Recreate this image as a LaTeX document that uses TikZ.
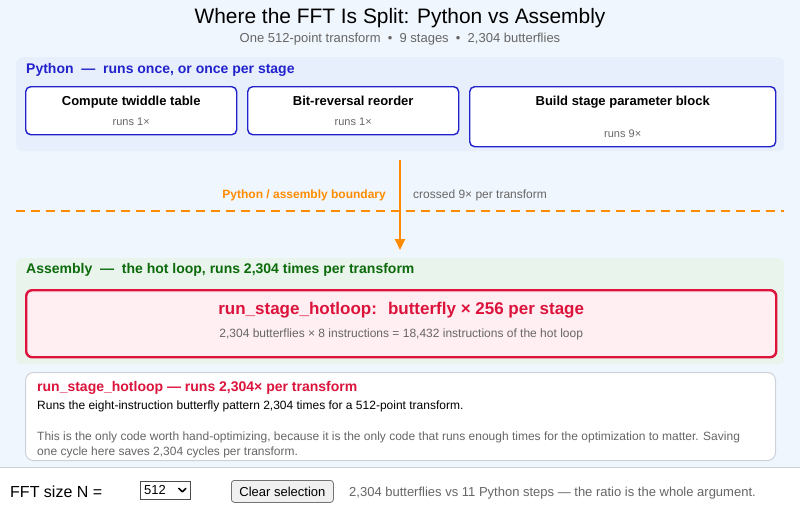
\documentclass[tikz,border=0pt]{standalone}
\usepackage{fontspec}
\setmainfont{Liberation Sans}
\usepackage{tikz}
\usetikzlibrary{arrows.meta,positioning,calc}

\definecolor{pagebg}{HTML}{F0F6FD}
\definecolor{pypanel}{HTML}{E7EFFC}
\definecolor{pyblue}{HTML}{2222CC}
\definecolor{asmpanel}{HTML}{E9F4EC}
\definecolor{asmgreen}{HTML}{0B6B0B}
\definecolor{hotred}{HTML}{DC143C}
\definecolor{hotfill}{HTML}{FFEEF2}
\definecolor{bordorange}{HTML}{FF8C00}
\definecolor{txtgray}{HTML}{666666}
\definecolor{linegray}{HTML}{CDD2D8}

\begin{document}
\begin{tikzpicture}[x=1pt,y=-1pt]
\tikzstyle{panel} = [rounded corners=6pt, anchor=north west, inner sep=0pt]
\tikzstyle{pybox} = [draw=pyblue, line width=1.4pt, fill=white, rounded corners=5pt, anchor=north west, inner sep=0pt]
\tikzstyle{boxtitle} = [anchor=base, inner sep=0pt, font=\fontsize{13}{15}\selectfont\bfseries]
\tikzstyle{runs} = [anchor=base, inner sep=0pt, text=txtgray, font=\fontsize{11}{13}\selectfont]
\tikzstyle{header} = [anchor=base west, inner sep=0pt, font=\fontsize{14}{16}\selectfont\bfseries]
\tikzstyle{body} = [anchor=base west, inner sep=0pt, font=\fontsize{12}{14}\selectfont]
\useasboundingbox (0,0) rectangle (800,517);
\fill[pagebg] (0,0) rectangle (800,467);
\fill[white] (0,467) rectangle (800,517);
\draw[linegray, line width=1pt] (0,467.5) -- (800,467.5);

\node[anchor=base, inner sep=0pt, font=\fontsize{20.9}{24}\selectfont] (title) at (400,23.5)
    {Where the FFT Is Split: Python vs Assembly};
\node[anchor=base, inner sep=0pt, text=txtgray, font=\fontsize{13}{15}\selectfont] (subtitle) at (400,42.5)
    {One 512-point transform \ \textbullet\ \ 9 stages \ \textbullet\ \ 2,304 butterflies};

% python side
\node[panel, fill=pypanel, minimum width=768pt, minimum height=94pt] (pypanel) at (16,57) {};
\node[header, text=pyblue] (pyhead) at (26,73) {Python \ --- \ runs once, or once per stage};
\node[pybox, minimum width=211pt, minimum height=48pt] (twiddle) at (25,86) {};
\node[pybox, minimum width=211pt, minimum height=48pt] (bitrev) at (247,86) {};
\node[pybox, minimum width=306pt, minimum height=60pt] (stageblk) at (469,86) {};
\node[boxtitle] (twiddlet) at ($(twiddle.north)+(0,19.5)$) {Compute twiddle table};
\node[runs] (twiddler) at ($(twiddle.north)+(0,39.5)$) {runs 1×};
\node[boxtitle] (bitrevt) at ($(bitrev.north)+(0,19.5)$) {Bit-reversal reorder};
\node[runs] (bitrevr) at ($(bitrev.north)+(0,39.5)$) {runs 1×};
\node[boxtitle] (stageblkt) at ($(stageblk.north)+(0,19.5)$) {Build stage parameter block};
\node[runs] (stageblkr) at ($(stageblk.north)+(0,51.5)$) {runs 9×};

% boundary
\coordinate (bstart) at (400,160);
\coordinate (bend) at (400,250);
\coordinate (dleft) at (16,211);
\coordinate (dright) at (784,211);
\draw[bordorange, line width=2pt, dash pattern=on 9pt off 6pt] (dleft) -- (dright);
\draw[bordorange, line width=2pt, -{Triangle[length=11pt,width=10pt]}] (bstart) -- (bend);
\node[anchor=base east, inner sep=0pt, text=bordorange, font=\fontsize{12}{14}\selectfont\bfseries] (blabel) at (386,198)
    {Python / assembly boundary};
\node[anchor=base west, inner sep=0pt, text=txtgray, font=\fontsize{12}{14}\selectfont] (bcount) at (413,198)
    {crossed 9× per transform};

% assembly side
\node[panel, fill=asmpanel, minimum width=768pt, minimum height=106pt] (asmpanel) at (16,258) {};
\node[header, text=asmgreen] (asmhead) at (26,273) {Assembly \ --- \ the hot loop, runs 2,304 times per transform};
\node[draw=hotred, line width=2.4pt, fill=hotfill, rounded corners=6pt, anchor=north west, inner sep=0pt,
    minimum width=750pt, minimum height=67pt] (hotloop) at (25,289) {};
\node[anchor=base, inner sep=0pt, text=hotred, font=\fontsize{17}{20}\selectfont\bfseries] (hottitle)
    at ($(hotloop.north)+(0,25)$) {run\_stage\_hotloop: \ butterfly × 256 per stage};
\node[anchor=base, inner sep=0pt, text=txtgray, font=\fontsize{12}{14}\selectfont] (hotsub)
    at ($(hotloop.north)+(0,48)$) {2,304 butterflies × 8 instructions = 18,432 instructions of the hot loop};

% detail card
\node[draw=linegray, line width=1pt, fill=white, rounded corners=8pt, anchor=north west, inner sep=0pt,
    minimum width=750pt, minimum height=88pt] (detail) at (25,372) {};
\node[anchor=base west, inner sep=0pt, text=hotred, font=\fontsize{14}{16}\selectfont\bfseries] (dtitle) at (37,391)
    {run\_stage\_hotloop --- runs 2,304× per transform};
\node[body] (dline) at (37,409) {Runs the eight-instruction butterfly pattern 2,304 times for a 512-point transform.};
\node[body, text=txtgray] (dpara1) at (37,440)
    {This is the only code worth hand-optimizing, because it is the only code that runs enough times for the optimization to matter. Saving};
\node[body, text=txtgray] (dpara2) at (37,455) {one cycle here saves 2,304 cycles per transform.};

% controls
\node[anchor=base west, inner sep=0pt, font=\fontsize{16}{19}\selectfont] (nlabel) at (10,497.5) {FFT size N =};
\node[draw=black!70, line width=0.8pt, anchor=north west, inner sep=0pt, minimum width=50pt, minimum height=18pt] (nselect) at (140,481) {};
\node[anchor=base west, inner sep=0pt, font=\fontsize{13}{15}\selectfont] (nvalue) at ($(nselect.west)+(4,4.5)$) {512};
\draw[line width=1.6pt, line cap=round, line join=round] ($(nselect.east)+(-12,-2)$) -- ($(nselect.east)+(-8.5,1.5)$) -- ($(nselect.east)+(-5,-2)$);
\node[draw=black!55, line width=0.8pt, fill=black!6, rounded corners=3pt, anchor=north west, inner sep=0pt,
    minimum width=102pt, minimum height=22pt, font=\fontsize{13}{15}\selectfont] (clearbtn) at (231,480) {Clear selection};
\node[anchor=base west, inner sep=0pt, text=txtgray, font=\fontsize{13}{15}\selectfont] (ratio) at (349,496)
    {2,304 butterflies vs 11 Python steps --- the ratio is the whole argument.};
\end{tikzpicture}
\end{document}
